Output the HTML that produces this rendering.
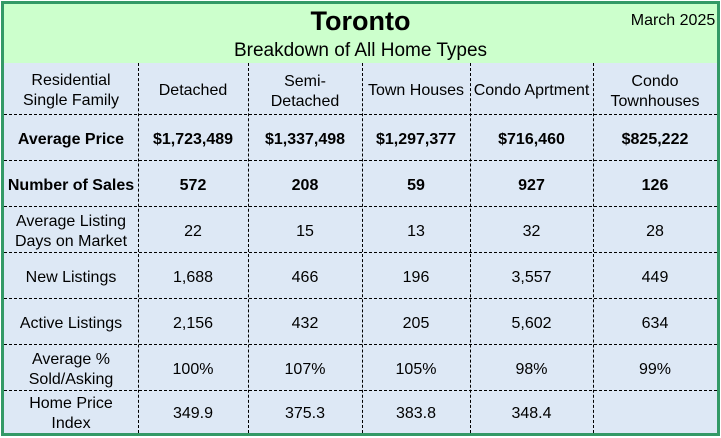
<!DOCTYPE html>
<html><head><meta charset="utf-8"><style>
body{margin:0;width:721px;height:438px;overflow:hidden;background:#fff;font-family:"Liberation Sans",Arial,sans-serif;color:#000}
#wrap{position:absolute;left:1px;top:1px;width:713px;height:429px;border:3px solid #339966;background:#dde8f5}
#head{position:absolute;left:0;top:0;width:713px;height:59px;background:#ccffcc}
.c{position:absolute;display:flex;align-items:center;justify-content:center;text-align:center;font-size:16px;line-height:20px;box-sizing:border-box;padding-top:5px}
.b{font-weight:bold}
.h{position:absolute;left:0;width:713px;height:0;border-top:1px dashed #000}
.v{position:absolute;top:59px;height:370px;width:0;border-left:1px dashed #000}
</style></head><body>
<div id="wrap">
<div id="head">
<div class="c b" style="left:0;top:1px;width:713px;height:32px;font-size:27px;padding-top:0">Toronto</div>
<div class="c" style="left:0;top:36px;width:713px;height:22px;font-size:19px;padding-top:0">Breakdown of All Home Types</div>
<div class="c" style="left:624px;top:7px;width:90px;height:20px;font-size:16px;padding-top:0">March 2025</div>
</div>
<div id="grid"></div>
</div>
<script>
const cols=[0,134,244,358,466,589,713];
const rowsY=[59,110,156,202,248,294,340,386,429];
const data=[
["Residential<br>Single Family","Detached","Semi-<br>Detached","Town Houses","Condo Aprtment","Condo<br>Townhouses"],
["Average Price","$1,723,489","$1,337,498","$1,297,377","$716,460","$825,222"],
["Number of Sales","572","208","59","927","126"],
["Average Listing<br>Days on Market","22","15","13","32","28"],
["New Listings","1,688","466","196","3,557","449"],
["Active Listings","2,156","432","205","5,602","634"],
["Average %<br>Sold/Asking","100%","107%","105%","98%","99%"],
["Home Price<br>Index","349.9","375.3","383.8","348.4",""]];
const g=document.getElementById('wrap');
for(let r=0;r<data.length;r++){
 for(let c=0;c<6;c++){
  const d=document.createElement('div');
  d.className='c'+((r==1||r==2)?' b':'');
  d.style.left=cols[c]+'px';d.style.width=(cols[c+1]-cols[c])+'px';
  d.style.top=rowsY[r]+'px';d.style.height=(rowsY[r+1]-rowsY[r])+'px';
  if(r==0&&(c==2||c==5)){d.style.paddingTop='7px';}
  d.innerHTML=data[r][c];
  
  
  g.appendChild(d);
 }
}
for(let i=1;i<rowsY.length-1;i++){
 const l=document.createElement('div');l.className='h';l.style.top=rowsY[i]+'px';
 
 
 g.appendChild(l);
}
for(let i=1;i<cols.length-1;i++){
 const l=document.createElement('div');l.className='v';l.style.left=cols[i]+'px';
 
 
 g.appendChild(l);
}
</script>
</body></html>
